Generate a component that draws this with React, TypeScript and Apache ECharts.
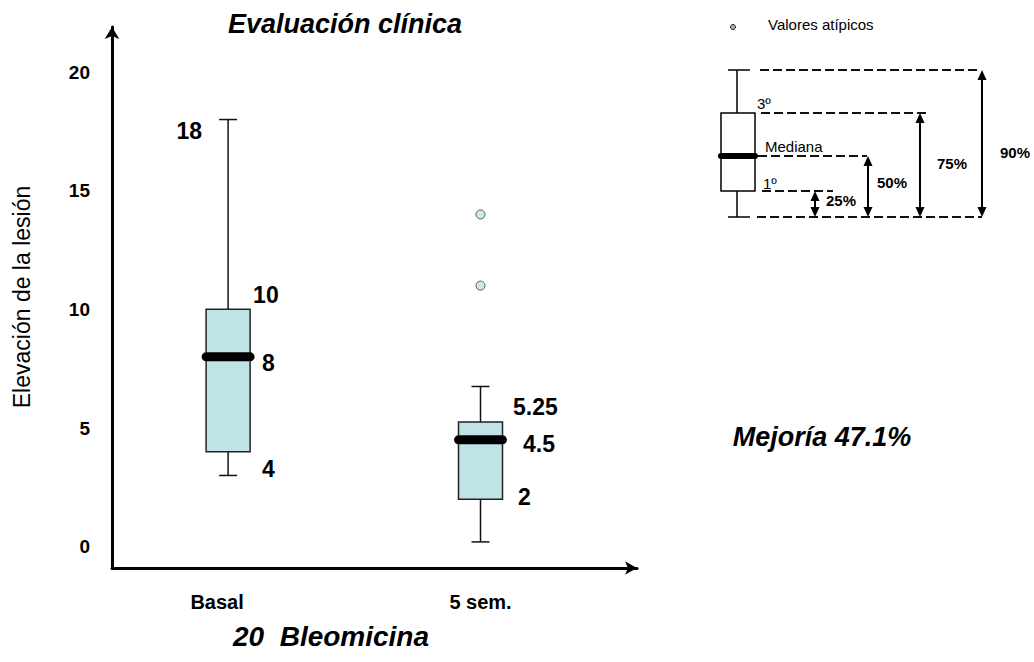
import React, { useEffect, useRef } from 'react';
import * as echarts from 'echarts';

// Box-plot summary per evaluation time
const categories = ['Basal', '5 sem.'];
const categoryPositions = [1, 2];
const whiskerLow = [3, 0.2];
const quartile1 = [4, 2];
const medians = [8, 4.5];
const quartile3 = [10, 5.25];
const whiskerHigh = [18, 6.75];
// Outliers (all in "5 sem.")
const outlierValues = [14, 11];
const outlierCategoryIndex = 1;
const yTickValues = [0, 5, 10, 15, 20];
// Which statistics get a value label on each box
const labeledStats = [
  ['high', 'q3', 'median', 'q1'],
  ['q3', 'median', 'q1'],
];

const FONT = '"Liberation Sans", Arial, Helvetica, sans-serif';
const BOX_FILL = '#bfe3e6';
const BOX_W = 44;
const CAP_W = 18;

// Pixel offsets of value labels relative to the box centre / statistic
const LABEL_OFFSETS: Record<string, { dx: number; dy: number; align: string }>[] = [
  {
    high: { dx: -26, dy: 11.5, align: 'right' },
    q3: { dx: 25, dy: -14.3, align: 'left' },
    median: { dx: 34, dy: 6.2, align: 'left' },
    q1: { dx: 34, dy: 17.3, align: 'left' },
  },
  {
    q3: { dx: 32.5, dy: -15, align: 'left' },
    median: { dx: 42.5, dy: 4.2, align: 'left' },
    q1: { dx: 37.5, dy: -2, align: 'left' },
  },
];

function vArrow(x: number, y1: number, y2: number) {
  const hw = 4.5;
  const hl = 10;
  return [
    { type: 'line', shape: { x1: x, y1: y1 + 4, x2: x, y2: y2 - 4 }, style: { stroke: '#000', lineWidth: 2 } },
    { type: 'polygon', shape: { points: [[x, y1], [x - hw, y1 + hl], [x + hw, y1 + hl]] }, style: { fill: '#000' } },
    { type: 'polygon', shape: { points: [[x, y2], [x - hw, y2 - hl], [x + hw, y2 - hl]] }, style: { fill: '#000' } },
  ];
}

function dashed(x1: number, x2: number, y: number) {
  return {
    type: 'line',
    shape: { x1, y1: y, x2, y2: y },
    style: { stroke: '#111', lineWidth: 2, lineDash: [9, 4] },
  };
}

function legendText(text: string, x: number, y: number, bold = false) {
  return {
    type: 'text',
    x,
    y,
    style: {
      text,
      fill: '#000',
      fontSize: 15,
      fontWeight: bold ? 'bold' : 'normal',
      fontFamily: FONT,
      align: 'left',
      verticalAlign: 'middle',
    },
  };
}

export default function App() {
  const ref = useRef<HTMLDivElement>(null);

  useEffect(() => {
    if (!ref.current) return;
    const chart = echarts.init(ref.current, null, { renderer: 'svg' });

    const boxData = categories.map((_, i) => [
      categoryPositions[i],
      whiskerLow[i],
      quartile1[i],
      medians[i],
      quartile3[i],
      whiskerHigh[i],
    ]);
    const outlierData = outlierValues.map((v) => [categoryPositions[outlierCategoryIndex], v]);

    const option = {
      animation: false,
      grid: { left: 112, right: 397, top: 27, bottom: 94 },
      xAxis: {
        type: 'value',
        min: 0.54,
        max: 2.62,
        axisLine: {
          show: true,
          onZero: false,
          symbol: ['none', 'arrow'],
          symbolSize: [10, 12],
          lineStyle: { color: '#000', width: 3 },
        },
        axisTick: { show: false },
        splitLine: { show: false },
        axisLabel: {
          customValues: categoryPositions,
          margin: 24,
          color: '#000',
          fontSize: 20,
          fontWeight: 'bold',
          fontFamily: FONT,
          formatter: (v: number) => {
            const i = categoryPositions.indexOf(Math.round(v));
            if (i < 0) return '';
            return i === 0 ? `{shift|${categories[i]}}` : `{plain|${categories[i]}}`;
          },
          rich: {
            shift: { fontSize: 20, fontWeight: 'bold', fontFamily: FONT, color: '#000', padding: [0, 22, 0, 0] },
            plain: { fontSize: 20, fontWeight: 'bold', fontFamily: FONT, color: '#000' },
          },
        },
      },
      yAxis: {
        type: 'value',
        min: -0.9,
        max: 21.9,
        axisLine: {
          show: true,
          onZero: false,
          symbol: ['none', 'arrow'],
          symbolSize: [11, 12],
          lineStyle: { color: '#000', width: 3 },
        },
        axisTick: { show: false },
        splitLine: { show: false },
        axisLabel: {
          customValues: yTickValues,
          margin: 22,
          color: '#000',
          fontSize: 19,
          fontWeight: 'bold',
          fontFamily: FONT,
        },
      },
      series: [
        {
          type: 'custom',
          data: boxData,
          encode: { x: 0, y: [1, 2, 3, 4, 5] },
          z: 2,
          renderItem: (params: any, api: any) => {
            const i = params.dataIndex;
            const xv = api.value(0);
            const vals: Record<string, number> = {
              low: api.value(1),
              q1: api.value(2),
              median: api.value(3),
              q3: api.value(4),
              high: api.value(5),
            };
            const py = (v: number) => api.coord([xv, v])[1];
            const cx = api.coord([xv, vals.median])[0];
            const half = BOX_W / 2;
            const stroke = { stroke: '#111', lineWidth: 1.5 };
            const children: any[] = [
              { type: 'line', shape: { x1: cx, y1: py(vals.q1), x2: cx, y2: py(vals.low) }, style: stroke },
              { type: 'line', shape: { x1: cx, y1: py(vals.q3), x2: cx, y2: py(vals.high) }, style: stroke },
              { type: 'line', shape: { x1: cx - CAP_W / 2, y1: py(vals.low), x2: cx + CAP_W / 2, y2: py(vals.low) }, style: stroke },
              { type: 'line', shape: { x1: cx - CAP_W / 2, y1: py(vals.high), x2: cx + CAP_W / 2, y2: py(vals.high) }, style: stroke },
              {
                type: 'rect',
                shape: { x: cx - half, y: py(vals.q3), width: BOX_W, height: py(vals.q1) - py(vals.q3) },
                style: { fill: BOX_FILL, stroke: '#222', lineWidth: 1.5 },
              },
              {
                type: 'line',
                shape: { x1: cx - half, y1: py(vals.median), x2: cx + half, y2: py(vals.median) },
                style: { stroke: '#000', lineWidth: 9, lineCap: 'round' },
              },
            ];
            labeledStats[i].forEach((stat) => {
              const off = LABEL_OFFSETS[i][stat];
              children.push({
                type: 'text',
                x: cx + off.dx,
                y: py(vals[stat]) + off.dy,
                style: {
                  text: String(vals[stat]),
                  fill: '#000',
                  fontSize: 23,
                  fontWeight: 'bold',
                  fontFamily: FONT,
                  align: off.align,
                  verticalAlign: 'middle',
                },
              });
            });
            return { type: 'group', children };
          },
        },
        {
          type: 'scatter',
          data: outlierData,
          symbol: 'circle',
          symbolSize: 9,
          z: 3,
          itemStyle: { color: BOX_FILL, borderColor: '#333', borderWidth: 1 },
        },
      ],
      graphic: [
        {
          type: 'text',
          x: 345,
          y: 24,
          style: {
            text: 'Evaluación clínica',
            fill: '#000',
            fontSize: 27,
            fontWeight: 'bold',
            fontStyle: 'italic',
            fontFamily: FONT,
            align: 'center',
            verticalAlign: 'middle',
          },
        },
        {
          type: 'text',
          x: 22,
          y: 297,
          rotation: Math.PI / 2,
          style: {
            text: 'Elevación de la lesión',
            fill: '#000',
            fontSize: 23,
            fontFamily: FONT,
            align: 'center',
            verticalAlign: 'middle',
          },
        },
        {
          type: 'text',
          x: 331,
          y: 636,
          style: {
            text: '20  Bleomicina',
            fill: '#000',
            fontSize: 28,
            fontWeight: 'bold',
            fontStyle: 'italic',
            fontFamily: FONT,
            align: 'center',
            verticalAlign: 'middle',
          },
        },
        {
          type: 'text',
          x: 822,
          y: 437,
          style: {
            text: 'Mejoría 47.1%',
            fill: '#000',
            fontSize: 27,
            fontWeight: 'bold',
            fontStyle: 'italic',
            fontFamily: FONT,
            align: 'center',
            verticalAlign: 'middle',
          },
        },
        // Reading guide for the box diagram
        {
          type: 'group',
          children: [
            { type: 'circle', shape: { cx: 733, cy: 27, r: 2.5 }, style: { fill: '#9fb7b9', stroke: '#222', lineWidth: 1 } },
            legendText('Valores atípicos', 768, 24),
            { type: 'line', shape: { x1: 737, y1: 70, x2: 737, y2: 113 }, style: { stroke: '#000', lineWidth: 1.5 } },
            { type: 'line', shape: { x1: 737, y1: 191, x2: 737, y2: 217 }, style: { stroke: '#000', lineWidth: 1.5 } },
            { type: 'line', shape: { x1: 728, y1: 70, x2: 750, y2: 70 }, style: { stroke: '#000', lineWidth: 1.5 } },
            { type: 'line', shape: { x1: 728, y1: 217, x2: 750, y2: 217 }, style: { stroke: '#000', lineWidth: 1.5 } },
            { type: 'rect', shape: { x: 721, y: 113, width: 34, height: 78 }, style: { fill: '#fff', stroke: '#000', lineWidth: 1.5 } },
            { type: 'line', shape: { x1: 721, y1: 156, x2: 755, y2: 156 }, style: { stroke: '#000', lineWidth: 6, lineCap: 'round' } },
            dashed(760, 980, 70),
            dashed(761, 930, 113),
            dashed(758, 867, 156),
            dashed(762, 833, 191),
            dashed(757, 982, 217),
            ...vArrow(815, 191, 217),
            ...vArrow(868, 156, 217),
            ...vArrow(920, 113, 217),
            ...vArrow(982, 70, 217),
            legendText('3º', 757, 103),
            legendText('Mediana', 765, 146),
            legendText('1º', 763, 183),
            legendText('25%', 826, 200, true),
            legendText('50%', 877, 182, true),
            legendText('75%', 937, 163, true),
            legendText('90%', 1000, 152, true),
          ],
        },
      ],
    };

    chart.setOption(option as any);
    return () => chart.dispose();
  }, []);

  return (
    <div
      ref={ref}
      style={{ position: 'fixed', left: 0, top: 0, width: 1034, height: 662, background: '#fff' }}
    />
  );
}
